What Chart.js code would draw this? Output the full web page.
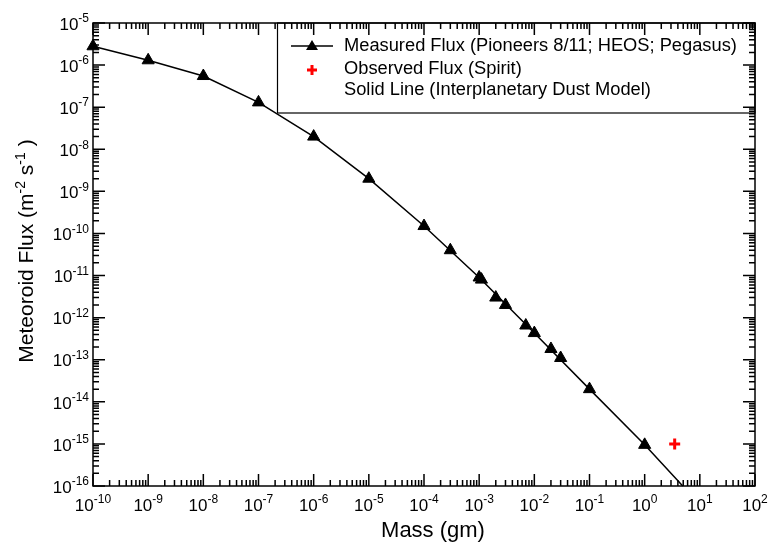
<!DOCTYPE html>
<html>
<head>
<meta charset="utf-8">
<script src="https://cdn.jsdelivr.net/npm/chart.js@4.4.1/dist/chart.umd.min.js"></script>
<style>
  html, body { margin: 0; padding: 0; background: #fff; }
  #wrap { width: 769px; height: 545px; }
</style>
</head>
<body>
<div id="wrap"><canvas id="flux"></canvas></div>
<script>
// Measured flux (Pioneers 8/11, HEOS, Pegasus)
const measuredMass = [1e-10, 1e-9, 1e-8, 1e-7, 1e-6, 1e-5, 1e-4, 3e-4, 1e-3, 1.1e-3, 2e-3, 3e-3, 7e-3, 1e-2, 2e-2, 3e-2, 1e-1, 1];
const measuredFlux = [2.8e-6, 1.3e-6, 5.5e-7, 1.3e-7, 2e-8, 2e-9, 1.5e-10, 4e-11, 9e-12, 8e-12, 3e-12, 2e-12, 6.5e-13, 4.3e-13, 1.8e-13, 1.1e-13, 2e-14, 9.5e-16];

// Interplanetary dust model curve
const modelMass = [1e-10, 1e-9, 1e-8, 1e-7, 1e-6, 1e-5, 1e-4, 1e-3, 1e-2, 1e-1, 1, 4.9];
const modelFlux = [2.8e-6, 1.3e-6, 5.5e-7, 1.3e-7, 2e-8, 2e-9, 1.5e-10, 9e-12, 4.3e-13, 2e-14, 9.5e-16, 1e-16];

// Observed flux (Spirit)
const spiritMass = [3.5];
const spiritFlux = [1e-15];

// decade exponents for the tick labels
const massExp = [-10, -9, -8, -7, -6, -5, -4, -3, -2, -1, 0, 1, 2];
const fluxExp = [-16, -15, -14, -13, -12, -11, -10, -9, -8, -7, -6, -5];

const FONT = "Arial, 'Liberation Sans', sans-serif";

const pts = (xs, ys) => xs.map((x, i) => ({ x: x, y: ys[i] }));

// write "10" with a raised exponent
function powLabel(ctx, exp, x, y, align) {
  const base = '10', sup = String(exp);
  ctx.font = '17px ' + FONT;
  const wb = ctx.measureText(base).width;
  ctx.font = '12px ' + FONT;
  const ws = ctx.measureText(sup).width;
  let left = x;
  if (align === 'center') left = x - (wb + ws) / 2;
  if (align === 'right') left = x - (wb + ws);
  ctx.textAlign = 'left';
  ctx.textBaseline = 'middle';
  ctx.font = '17px ' + FONT;
  ctx.fillText(base, left, y);
  ctx.font = '12px ' + FONT;
  ctx.fillText(sup, left + wb, y - 6);
}

// minor + major ticks pointing into the plot, on every side
function drawTicks(chart) {
  const ctx = chart.ctx;
  const a = chart.chartArea;
  const sx = chart.scales.x, sy = chart.scales.y;
  ctx.save();
  ctx.setLineDash([]);
  ctx.globalAlpha = 1;
  ctx.strokeStyle = '#000000';
  ctx.lineWidth = 1.5;
  for (const e of massExp) {
    for (let m = 1; m <= 9; m++) {
      const v = m * Math.pow(10, e);
      if (v > 100.01) break;
      const px = sx.getPixelForValue(v);
      const len = m === 1 ? 12 : 6;
      ctx.beginPath();
      ctx.moveTo(px, a.bottom);
      ctx.lineTo(px, a.bottom - len);
      ctx.moveTo(px, a.top);
      ctx.lineTo(px, a.top + len);
      ctx.stroke();
    }
  }
  for (const e of fluxExp) {
    for (let m = 1; m <= 9; m++) {
      const v = m * Math.pow(10, e);
      if (v > 1.0001e-5) break;
      const py = sy.getPixelForValue(v);
      const len = m === 1 ? 12 : 6;
      ctx.beginPath();
      ctx.moveTo(a.left, py);
      ctx.lineTo(a.left + len, py);
      ctx.moveTo(a.right, py);
      ctx.lineTo(a.right - len, py);
      ctx.stroke();
    }
  }
  ctx.strokeRect(a.left, a.top, a.right - a.left, a.bottom - a.top);
  ctx.restore();
}

function drawLabels(chart) {
  const ctx = chart.ctx;
  const a = chart.chartArea;
  const sx = chart.scales.x, sy = chart.scales.y;
  ctx.save();
  ctx.fillStyle = '#000';
  massExp.forEach(e => powLabel(ctx, e, sx.getPixelForValue(Math.pow(10, e)), a.bottom + 20, 'center'));
  fluxExp.forEach(e => powLabel(ctx, e, a.left - 4, sy.getPixelForValue(Math.pow(10, e)) + 2, 'right'));

  ctx.font = '22px ' + FONT;
  ctx.textAlign = 'center';
  ctx.textBaseline = 'alphabetic';
  ctx.fillText('Mass (gm)', 433, 537);

  ctx.translate(33, 251);
  ctx.rotate(-Math.PI / 2);
  const parts = [['Meteoroid Flux (m', 21, 0], ['-2', 14, -8], [' s', 21, 0], ['-1', 14, -8], [' )', 21, 0]];
  let total = 0;
  parts.forEach(p => { ctx.font = p[1] + 'px ' + FONT; total += ctx.measureText(p[0]).width; });
  let cx = -total / 2;
  ctx.textAlign = 'left';
  parts.forEach(p => {
    ctx.font = p[1] + 'px ' + FONT;
    ctx.fillText(p[0], cx, p[2]);
    cx += ctx.measureText(p[0]).width;
  });
  ctx.restore();
}

function drawLegend(chart) {
  const ctx = chart.ctx;
  const a = chart.chartArea;
  const L = 277, T = a.top, R = a.right, B = 113;
  ctx.save();
  ctx.fillStyle = '#fff';
  ctx.fillRect(L, T, R - L, B - T);
  ctx.lineWidth = 1.2;
  ctx.strokeStyle = '#000';
  ctx.strokeRect(L + 0.5, T, R - L - 0.5, B - T);

  ctx.lineWidth = 1.5;
  ctx.beginPath();
  ctx.moveTo(291, 46);
  ctx.lineTo(333, 46);
  ctx.stroke();
  ctx.fillStyle = '#000';
  ctx.beginPath();
  ctx.moveTo(312, 40);
  ctx.lineTo(318, 50);
  ctx.lineTo(306, 50);
  ctx.closePath();
  ctx.fill();

  ctx.strokeStyle = '#ff0000';
  ctx.lineWidth = 3;
  ctx.beginPath();
  ctx.moveTo(307, 70);
  ctx.lineTo(317, 70);
  ctx.moveTo(312, 65);
  ctx.lineTo(312, 75);
  ctx.stroke();

  ctx.fillStyle = '#000';
  ctx.font = '18.3px ' + FONT;
  ctx.textAlign = 'left';
  ctx.textBaseline = 'middle';
  ctx.fillText('Measured Flux (Pioneers 8/11; HEOS; Pegasus)', 344, 46);
  ctx.fillText('Observed Flux (Spirit)', 344, 69);
  ctx.fillText('Solid Line (Interplanetary Dust Model)', 344, 90);
  ctx.restore();
}

const decor = {
  id: 'decor',
  afterDraw(chart) {
    drawLegend(chart);
    drawTicks(chart);
    drawLabels(chart);
  }
};

new Chart(document.getElementById('flux'), {
  type: 'scatter',
  data: {
    datasets: [
      {
        label: 'Solid Line (Interplanetary Dust Model)',
        data: pts(modelMass, modelFlux),
        showLine: true,
        borderColor: '#000',
        borderWidth: 1.5,
        pointRadius: 0,
        tension: 0,
        clip: false
      },
      {
        label: 'Measured Flux (Pioneers 8/11; HEOS; Pegasus)',
        data: pts(measuredMass, measuredFlux),
        showLine: false,
        pointStyle: 'triangle',
        pointRadius: 7,
        backgroundColor: '#000',
        borderColor: '#000',
        borderWidth: 1,
        clip: false
      },
      {
        label: 'Observed Flux (Spirit)',
        data: pts(spiritMass, spiritFlux),
        showLine: false,
        pointStyle: 'cross',
        pointRadius: 5.5,
        borderColor: '#ff0000',
        borderWidth: 3,
        clip: false
      }
    ]
  },
  options: {
    maintainAspectRatio: false,
    animation: false,
    layout: { padding: { top: 23, right: 14 } },
    plugins: { legend: { display: false }, tooltip: { enabled: false } },
    scales: {
      x: {
        type: 'logarithmic',
        min: 1e-10,
        max: 1e2,
        grid: { display: false, drawTicks: false },
        border: { display: false },
        ticks: { display: false },
        afterFit(s) { s.height = 59; }
      },
      y: {
        type: 'logarithmic',
        min: 1e-16,
        max: 1e-5,
        grid: { display: false, drawTicks: false },
        border: { display: false },
        ticks: { display: false },
        afterFit(s) { s.width = 93; }
      }
    }
  },
  plugins: [decor]
});
</script>
</body>
</html>
